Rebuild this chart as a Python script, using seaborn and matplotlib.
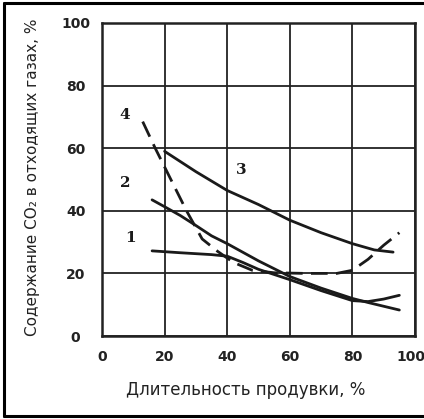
import matplotlib
matplotlib.use("Agg")
import matplotlib.pyplot as plt
import seaborn as sns
import pandas as pd
from matplotlib.lines import Line2D
from matplotlib.transforms import ScaledTranslation

# ---- data ----
x1 = [16, 25, 35, 40, 45, 50, 60, 70, 80, 85, 90, 95]
y1 = [27.2, 26.6, 26.0, 25.5, 23.5, 21.3, 18.0, 14.5, 11.3, 11.0, 11.8, 13.0]

x2 = [16, 20, 25, 30, 35, 40, 50, 60, 70, 80, 85, 90, 95]
y2 = [43.5, 41.3, 38.5, 35.3, 32.0, 29.5, 24.0, 19.0, 15.3, 12.0, 10.7, 9.5, 8.3]

x3 = [20, 30, 40, 50, 60, 70, 80, 87, 93]
y3 = [59.0, 52.5, 46.5, 42.0, 37.0, 33.0, 29.5, 27.5, 26.8]

x4 = [13, 17, 22, 27, 32, 37, 42, 48, 55, 65, 75, 80, 85, 90, 95]
y4 = [68.5, 60.0, 50.0, 40.0, 31.0, 27.0, 23.5, 21.0, 20.2, 20.0, 20.0, 21.0, 24.5, 29.0, 33.0]

curve_labels = ["1", "2", "3", "4"]
label_pos_x = [9.0, 7.3, 44.4, 7.3]
label_pos_y = [31.3, 48.9, 53.0, 70.6]

x_ticks = [0, 20, 40, 60, 80, 100]
y_ticks = [0, 20, 40, 60, 80, 100]
x_title = "Длительность продувки, %"
y_title = "Содержание CO₂ в отходящих газах, %"

df = pd.concat([
    pd.DataFrame({"x": x1, "y": y1, "curve": "1"}),
    pd.DataFrame({"x": x2, "y": y2, "curve": "2"}),
    pd.DataFrame({"x": x3, "y": y3, "curve": "3"}),
    pd.DataFrame({"x": x4, "y": y4, "curve": "4"}),
], ignore_index=True)

sns.set_style("white")
plt.rcParams['font.family'] = ['DejaVu Sans']
tick_font = ['Liberation Sans Narrow', 'DejaVu Sans']

fig = plt.figure(figsize=(4.24, 4.19), dpi=100)
ax = fig.add_axes([102/424, 1 - 336/419, (415-102)/424, (336-23)/419])

for c in curve_labels:
    sub = df[df["curve"] == c]
    if c == "4":
        sns.lineplot(data=sub, x="x", y="y", ax=ax, color="#1a1a1a", lw=2.0,
                     sort=False, estimator=None, dashes=False, linestyle=(0, (6, 3)))
    else:
        sns.lineplot(data=sub, x="x", y="y", ax=ax, color="#1a1a1a", lw=2.0,
                     sort=False, estimator=None)

for t, lx, ly in zip(curve_labels, label_pos_x, label_pos_y):
    ax.text(lx, ly, t, fontsize=11, fontweight="bold", family="DejaVu Serif",
            ha="center", va="center", color="#1a1a1a")

ax.set_xlim(0, 100)
ax.set_ylim(0, 100)
ax.set_xticks(x_ticks)
ax.set_yticks(y_ticks)
ax.set_xticklabels([str(v) for v in x_ticks], fontsize=10, fontweight="bold",
                   color="#222222", family=tick_font)
ax.set_yticklabels([str(v) for v in y_ticks], fontsize=10, fontweight="bold",
                   color="#222222", ha="center", family=tick_font)
ax.tick_params(axis="x", length=0, pad=10)
ax.tick_params(axis="y", length=0, pad=19)
# nudge the last x tick label slightly left as in the reference
lbl = ax.get_xticklabels()[-1]
lbl.set_transform(lbl.get_transform() + ScaledTranslation(-4/100, 0, fig.dpi_scale_trans))

ax.grid(True, color="#222222", lw=1.3)
ax.set_axisbelow(True)
for s in ax.spines.values():
    s.set_visible(True)
    s.set_color("#222222")
    s.set_linewidth(1.8)
ax.set_xlabel("")
ax.set_ylabel("")

fig.text(246/424, 1 - 390/419, x_title, fontsize=12, ha="center", va="center",
         color="#222222", family=tick_font)
fig.text(33/424, 1 - 177/419, y_title, fontsize=11, rotation=90, ha="center",
         va="center", color="#222222", family=tick_font)

# outer frame (left, top, bottom)
for (xa, ya) in [([4/424, 4/424], [3/419, 416/419]),
                 ([4/424, 1.0], [416/419, 416/419]),
                 ([4/424, 1.0], [3/419, 3/419])]:
    fig.add_artist(Line2D(xa, ya, transform=fig.transFigure, color="black", lw=2.2))

fig.savefig("out.png", dpi=100)
